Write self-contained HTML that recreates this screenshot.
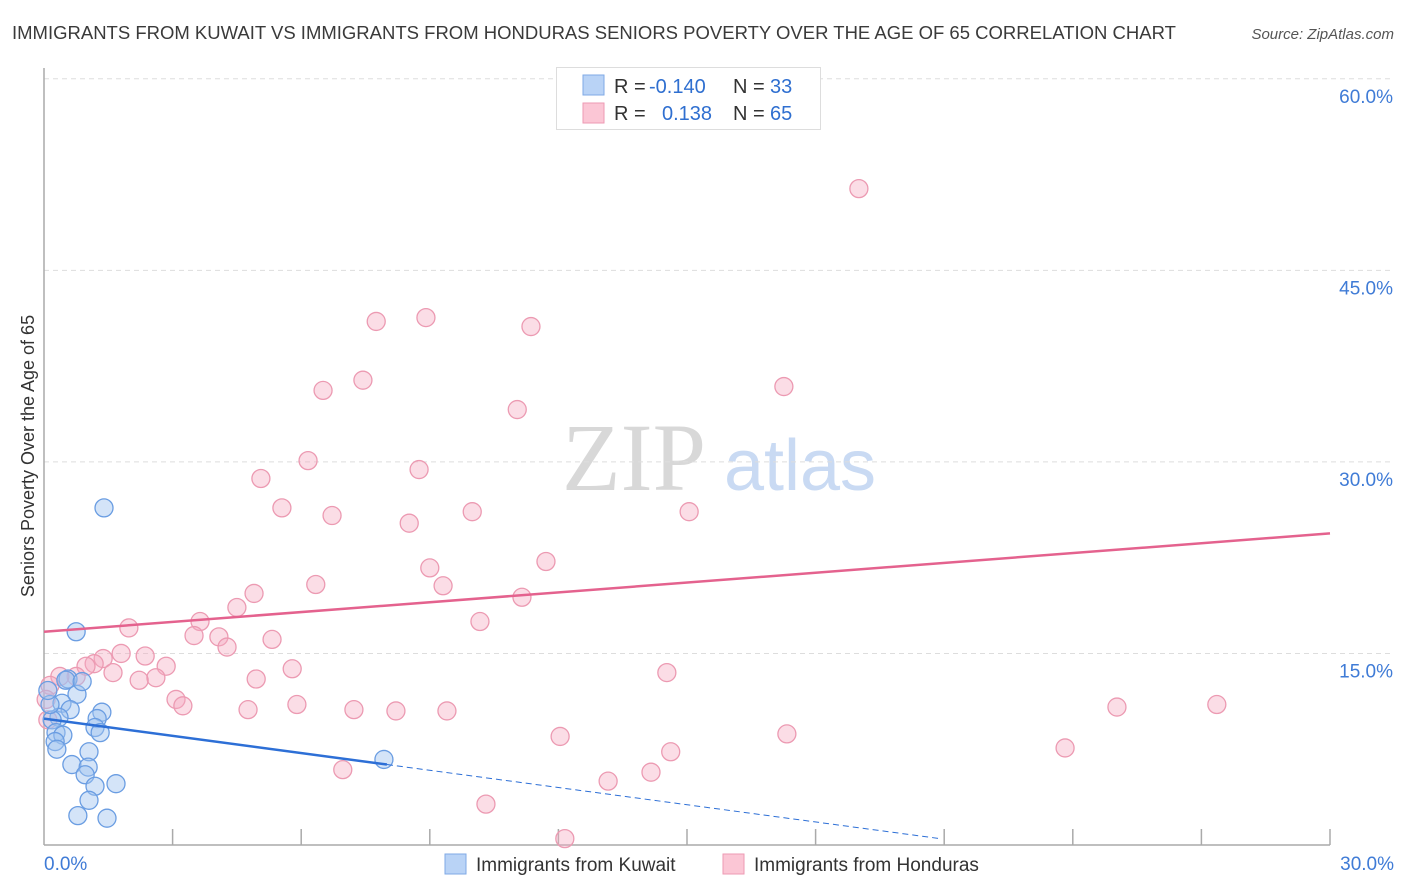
<!DOCTYPE html>
<html><head><meta charset="utf-8"><style>
body{margin:0;background:#fff;font-family:"Liberation Sans",sans-serif;}
#wrap{position:relative;width:1406px;height:892px;overflow:hidden;}
</style></head><body>
<div id="wrap">
<svg id="svg" width="1406" height="892" xmlns="http://www.w3.org/2000/svg">
<text x="12" y="39" font-size="18.5" fill="#3a3a3a">IMMIGRANTS FROM KUWAIT VS IMMIGRANTS FROM HONDURAS SENIORS POVERTY OVER THE AGE OF 65 CORRELATION CHART</text>
<text x="1394" y="39" font-size="15" fill="#555" font-style="italic" text-anchor="end">Source: ZipAtlas.com</text>
<text x="634" y="490" font-size="96" fill="#d8d8d8" font-family="Liberation Serif,serif" text-anchor="middle">ZIP</text>
<text x="800" y="490" font-size="72" fill="#c9daf3" text-anchor="middle">atlas</text>
<text transform="translate(34,456) rotate(-90)" font-size="18" fill="#333" text-anchor="middle">Seniors Poverty Over the Age of 65</text>
<g id="grid"></g><g id="axes"></g><g id="pts"></g><g id="lines"></g>
<g>
<rect x="556.5" y="67.5" width="264" height="62" fill="#fff" stroke="#ddd"/>
<rect x="583" y="75" width="21" height="20" fill="#b9d3f6" stroke="#7fa9e6"/>
<rect x="583" y="103" width="21" height="20" fill="#fbc6d5" stroke="#ee9ab3"/>
<text x="614" y="93" font-size="20" fill="#333">R = </text><text x="649" y="93" font-size="20" fill="#2f6fd0">-0.140</text>
<text x="733" y="93" font-size="20" fill="#333">N = </text><text x="770" y="93" font-size="20" fill="#2f6fd0">33</text>
<text x="614" y="120" font-size="20" fill="#333">R = </text><text x="662" y="120" font-size="20" fill="#2f6fd0">0.138</text>
<text x="733" y="120" font-size="20" fill="#333">N = </text><text x="770" y="120" font-size="20" fill="#2f6fd0">65</text>
</g>
<g>
<rect x="445" y="854" width="21" height="20" fill="#b9d3f6" stroke="#7fa9e6"/>
<text x="476" y="871" font-size="19" fill="#333">Immigrants from Kuwait</text>
<rect x="723" y="854" width="21" height="20" fill="#fbc6d5" stroke="#ee9ab3"/>
<text x="754" y="871" font-size="19" fill="#333">Immigrants from Honduras</text>
</g>
</svg>
</div>
<script>
const xTickLabels=["0.0%","30.0%"];
const yTicks=[15,30,45,60];
const kuwaitX=[1.40,0.75,0.56,0.77,0.42,0.61,0.35,1.35,1.24,0.19,1.19,1.31,0.28,0.44,0.26,0.30,1.05,0.65,1.03,0.96,1.19,1.68,1.05,0.79,1.47,7.93,0.14,0.09,0.51,0.89];
const kuwaitY=[26.4,16.7,13.0,11.8,11.1,10.6,10.0,10.4,9.9,9.8,9.2,8.8,8.8,8.6,8.1,7.5,7.3,6.3,6.1,5.5,4.6,4.8,3.5,2.3,2.1,6.7,11.0,12.1,12.9,12.8];
const hondX=[19.01,7.75,8.91,11.36,6.51,7.44,17.26,11.04,6.16,8.75,5.06,5.55,6.72,8.52,9.99,15.05,11.71,9.00,6.34,9.31,4.90,11.15,4.50,3.64,10.17,1.98,3.50,4.08,5.32,4.27,1.80,2.36,1.38,2.85,1.17,0.98,5.79,1.61,14.53,0.75,0.37,2.61,2.22,4.95,0.14,3.08,3.24,5.90,4.76,7.23,8.21,9.40,25.03,27.36,12.04,17.33,14.62,23.82,6.97,14.16,13.16,10.31,12.15,0.05,0.09];
const hondY=[51.4,41.0,41.3,40.6,35.6,36.4,35.9,34.1,30.1,29.4,28.7,26.4,25.8,25.2,26.1,26.1,22.2,21.7,20.4,20.3,19.7,19.4,18.6,17.5,17.5,17.0,16.4,16.3,16.1,15.5,15.0,14.8,14.6,14.0,14.2,14.0,13.8,13.5,13.5,13.2,13.2,13.1,12.9,13.0,12.5,11.4,10.9,11.0,10.6,10.6,10.5,10.5,10.8,11.0,8.5,8.7,7.3,7.6,5.9,5.7,5.0,3.2,0.5,11.4,9.8];
const kuwaitTrend=[9.9,6.3,0.5]; // at x=0, 8, 20.9
const kuwaitTrendX=[0,8,20.9];
const hondTrend=[16.7,24.4];
const hondTrendX=[0,30];
const NS="http://www.w3.org/2000/svg";
const X=v=>44+v/30*1286, Y=v=>845-v*12.77;
function mk(t,a,p){const e=document.createElementNS(NS,t);for(const k in a)e.setAttribute(k,a[k]);document.getElementById(p).appendChild(e);return e;}
yTicks.forEach(t=>{
 const l=mk('line',{x1:44,x2:1394,y1:Y(t),y2:Y(t),stroke:'#ddd','stroke-dasharray':'5,4'},'grid');
 
 
 const tx=mk('text',{x:1393,y:Y(t)+24,'font-size':19,fill:'#3f7bd6','text-anchor':'end'},'grid');
 tx.textContent=t.toFixed(1)+'%';
 
 
});
mk('line',{x1:44,x2:44,y1:68,y2:845,stroke:'#aaa','stroke-width':1.5},'axes');
mk('line',{x1:44,x2:1330,y1:845,y2:845,stroke:'#aaa','stroke-width':1.5},'axes');
for(let i=1;i<=10;i++){const t=mk('line',{x1:X(i*3),x2:X(i*3),y1:829,y2:845,stroke:'#aaa','stroke-width':1.5},'axes');
 
 }
const xl0=mk('text',{x:44,y:870,'font-size':19,fill:'#3f7bd6'},'axes');xl0.textContent=xTickLabels[0];


const xl1=mk('text',{x:1394,y:870,'font-size':19,fill:'#3f7bd6','text-anchor':'end'},'axes');xl1.textContent=xTickLabels[1];


hondX.forEach((v,i)=>{const c=mk('circle',{cx:X(v),cy:Y(hondY[i]),r:9,fill:'rgba(245,170,192,0.4)',stroke:'#ec9ab2','stroke-width':1.3},'pts');
 
 });
kuwaitX.forEach((v,i)=>{const c=mk('circle',{cx:X(v),cy:Y(kuwaitY[i]),r:9,fill:'rgba(160,196,240,0.45)',stroke:'#6a9de2','stroke-width':1.3},'pts');
 
 });
const hl=mk('line',{x1:X(hondTrendX[0]),y1:Y(hondTrend[0]),x2:X(hondTrendX[1]),y2:Y(hondTrend[1]),stroke:'#e4628e','stroke-width':2.5},'lines');


const kl=mk('line',{x1:X(kuwaitTrendX[0]),y1:Y(kuwaitTrend[0]),x2:X(kuwaitTrendX[1]),y2:Y(kuwaitTrend[1]),stroke:'#2d6fd6','stroke-width':2.5},'lines');


const kd=mk('line',{x1:X(kuwaitTrendX[1]),y1:Y(kuwaitTrend[1]),x2:X(kuwaitTrendX[2]),y2:Y(kuwaitTrend[2]),stroke:'#2d6fd6','stroke-width':1,'stroke-dasharray':'6,4'},'lines');


</script>
</body></html>
